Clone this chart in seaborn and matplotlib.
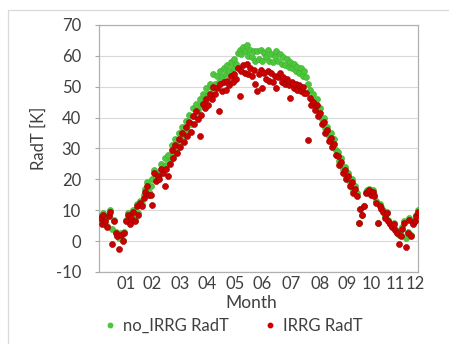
import matplotlib
matplotlib.use("Agg")
import matplotlib.pyplot as plt
from matplotlib.lines import Line2D
from matplotlib.patches import Rectangle
import seaborn as sns
import pandas as pd

# ---------------- data ----------------
days = list(range(1, 366, 2))

no_irrg = [
    8, 6, 9, 7, 5, 8.5, 10, 4, 7, 3,
    2, 1, 2.5, 0.5, 3, 7, 9, 6, 8, 10,
    7, 12, 9, 13, 12, 15, 17, 19, 16, 18,
    20, 23, 20.5, 22, 21.5, 25, 23, 27, 24.5, 28,
    26, 31, 28, 33, 30, 35, 32, 37, 34, 39,
    36, 41, 38, 43, 40.5, 44.5, 42.5, 46, 44, 47.5,
    46, 49.5, 47.5, 51, 49.5, 54, 51, 53.5, 51.5, 55,
    53, 56, 54, 57, 55, 58, 56, 59, 57.5, 61,
    62, 60.5, 63, 61.5, 63.5, 60, 62, 59.5, 61.5, 58.5,
    61.5, 59, 62, 58.5, 61, 59.5, 62, 58.5, 60.5, 58,
    60, 61.5, 58.5, 60.5, 57.5, 59.5, 57, 59, 56.5, 58,
    56, 57.5, 55, 56.5, 54.5, 56, 53.5, 55, 53, 51,
    49, 46, 47.5, 44, 46, 42.5, 43, 39.5, 40, 36.5,
    37, 34, 35, 32, 33, 29.5, 29, 26, 27, 23.5,
    24, 21, 22, 19, 20, 16.5, 18, 15.5, 6, 10.5,
    8.5, 11.5, 16, 16.5, 17, 15.5, 16.5, 15, 13, 6,
    12, 11, 10, 8, 9.5, 7, 6, 5, 6, 4,
    3, 2, 2, 4.5, 6.5, 1, 3, 7.5, 2, 6,
    7, 8.5, 10,
]

irrg = [
    7.5, 5.5, 8.5, 6.5, 4.5, 8, 9.5, -1, 6.5, 2.5,
    1.5, -2.5, 2, 0, 2.5, 6.5, 8.5, 5.5, 7.5, 9.5,
    6.5, 11.5, 8.5, 12.5, 11.5, 14, 16, 18, 15, 15,
    11.7, 22, 19.5, 21, 20, 23.5, 22, 18, 23.5, 21,
    25, 29.5, 27, 31, 28.5, 33, 30.5, 35, 32, 37,
    34, 38.5, 35.5, 40.5, 38, 42, 39.5, 34, 41, 44.5,
    43, 46, 44, 47.5, 46, 50, 47.5, 49.5, 42, 51,
    48.5, 51.5, 49, 52, 50.5, 53.5, 51.5, 54, 52.5, 56,
    47, 55, 57, 54.5, 57.5, 54, 56, 53.5, 55.5, 51,
    48.5, 54, 55.5, 49.5, 54.5, 52.5, 55, 52, 54.5, 51.5,
    53.5, 49.5, 53, 54.5, 51.5, 53, 51, 52.5, 50.5, 46.3,
    51.5, 49.5, 51, 49, 50.5, 48.5, 50, 48, 48, 32.6,
    46.5, 44, 45, 42.5, 44, 40.5, 41.5, 38, 38.5, 35,
    36, 32.5, 33.5, 30.5, 31.5, 28, 27.5, 24.5, 25.5, 22,
    23, 20, 21, 18, 19, 15.5, 17, 14.5, 5.8, 10.5,
    8.5, 11.5, 15.5, 16, 16.5, 15, 16, 14.5, 12.5, 5.8,
    11.5, 10.5, 9.5, 7.5, 9, 6.5, 5.5, 4.5, 5.5, 3.5,
    2.5, -1, 1.5, 4, 6, -2, 2.5, 7, 1.5, 5.5,
    6.5, 8, 9.5,
]

series_names = ["no_IRRG RadT", "IRRG RadT"]
series_colors = ["#4cc63a", "#cc0000"]
series_edges = ["#3fb12f", "#9a0000"]

month_tick_days = [31, 61, 93, 124, 156, 187, 220, 253, 284, 312, 339, 362]
month_labels = ["01", "02", "03", "04", "05", "06", "07", "08", "09", "10", "11", "12"]
y_ticks = [-10, 0, 10, 20, 30, 40, 50, 60, 70]

# ---------------- build table ----------------
df = pd.DataFrame({
    "day": days + days,
    "RadT": no_irrg + irrg,
    "series": [series_names[0]] * len(days) + [series_names[1]] * len(days),
})

sns.set_theme(style="white")
plt.rcParams["font.family"] = ["Lato", "DejaVu Sans"]

fig = plt.figure(figsize=(4.49, 3.44), dpi=100)
ax = fig.add_axes([99 / 449, 1 - 272 / 344, 319 / 449, 247 / 344])

for name, col, ec in zip(series_names, series_colors, series_edges):
    sub = df[df["series"] == name]
    sns.scatterplot(data=sub, x="day", y="RadT", ax=ax, color=col,
                    edgecolor=ec, linewidth=0.4, s=19, legend=False, zorder=3)

ax.set_xlim(0, 365)
ax.set_ylim(-10, 70)
ax.set_yticks(y_ticks)
ax.set_yticklabels([str(v) for v in y_ticks], fontsize=12, color="#404040")
ax.set_xticks(month_tick_days)
ax.set_xticklabels(month_labels, fontsize=12, color="#404040")
ax.tick_params(axis="x", length=0, pad=3)
ax.tick_params(axis="y", length=3, width=0.8, color="#a6a6a6", pad=10, left=True)
ax.grid(axis="y", color="#d9d9d9", linewidth=0.8, zorder=0)
ax.grid(axis="x", visible=False)
for sp in ax.spines.values():
    sp.set_color("#b0b0b0")
    sp.set_linewidth(0.9)

ax.set_xlabel("Month", fontsize=12.5, color="#404040")
ax.set_ylabel("RadT [K]", fontsize=12, color="#404040")
ax.xaxis.set_label_coords(0.476, -0.095)
ax.yaxis.set_label_coords(-0.165, 0.54)

handles = [Line2D([0], [0], marker="o", linestyle="", markersize=3.2,
                  markerfacecolor=c, markeredgecolor=c) for c in series_colors]
fig.legend(handles, series_names, loc="center", bbox_to_anchor=(0.517, 0.052),
           ncol=2, frameon=False, fontsize=12, handletextpad=0.25,
           columnspacing=2.0, handlelength=1.0, labelcolor="#404040")

fig.add_artist(Rectangle((8 / 449, -0.1), 1.2, 1 - 10.5 / 344 + 0.1,
                         transform=fig.transFigure, fill=False,
                         edgecolor="#d9d9d9", linewidth=0.9, clip_on=False))

fig.savefig("out.png", dpi=100)
